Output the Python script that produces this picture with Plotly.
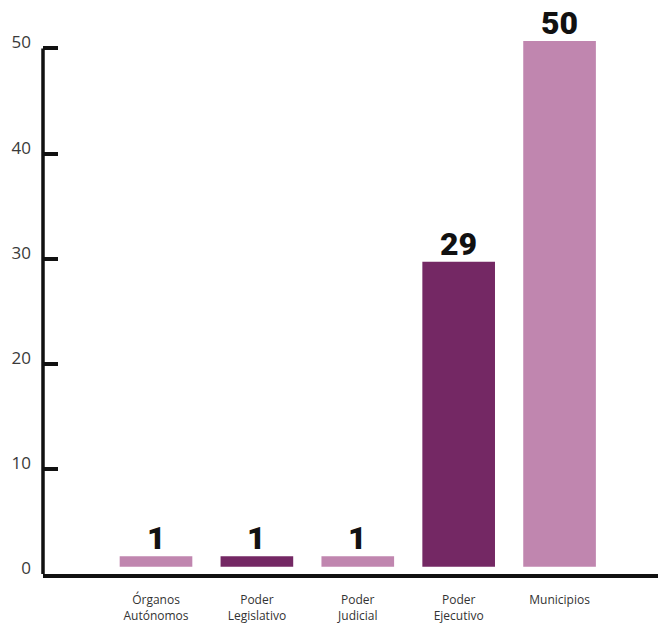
import plotly.graph_objects as go

categories = ["Órganos<br>Autónomos", "Poder<br>Legislativo", "Poder<br>Judicial", "Poder<br>Ejecutivo", "Municipios"]
values = [1, 1, 1, 29, 50]
colors = ["#c086af", "#742864", "#c086af", "#742864", "#c086af"]
y_ticks = [0, 10, 20, 30, 40, 50]
bar_base = 0.7

xs = list(range(len(categories)))
fig = go.Figure(go.Bar(
    x=xs,
    y=values,
    base=bar_base,
    width=0.72,
    marker=dict(color=colors, line=dict(width=0)),
    hoverinfo="x+y",
))

for xi, v in zip(xs, values):
    fig.add_annotation(
        x=xi, y=v + bar_base, text=str(v), showarrow=False,
        yanchor="bottom", yshift=-3,
        font=dict(family="Roboto, sans-serif", size=32, color="#111111", weight=900),
    )

# left axis line running from 0 up to the top tick
fig.add_shape(type="line", xref="paper", yref="y", x0=0, x1=0, y0=0, y1=max(y_ticks),
              line=dict(color="#111111", width=3.5))

fig.update_layout(
    width=658, height=616,
    margin=dict(l=35, r=0, t=0, b=50),
    paper_bgcolor="white", plot_bgcolor="white",
    showlegend=False,
    xaxis=dict(
        range=[-1.12, 5.055],
        automargin=False,
        tickmode="array",
        tickvals=xs,
        ticktext=categories,
        showgrid=False, zeroline=False,
        showline=True, linecolor="#111111", linewidth=4,
        ticks="", tickfont=dict(family="Open Sans", size=12, color="#333333"),
        ticklabelstandoff=12,
    ),
    yaxis=dict(
        range=[0, 53.85],
        automargin=False,
        tickmode="array", tickvals=y_ticks,
        showgrid=False, zeroline=False,
        showline=False,
        ticks="inside", ticklen=15, tickwidth=4, tickcolor="#111111",
        tickfont=dict(family="Open Sans", size=17, color="#3a3a3a"),
        ticklabelstandoff=11,
        ticklabelshift=-6,
    ),
)

fig.write_html("out.html")
